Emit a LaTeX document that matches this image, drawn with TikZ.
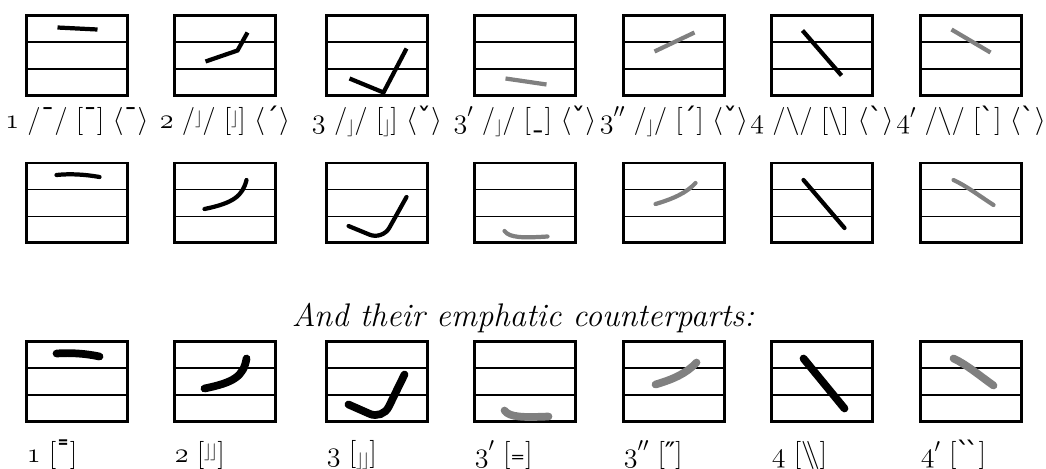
\RequirePackage{fix-cm}
\documentclass[tikz,border=0pt]{standalone}
\usepackage{fontspec}
\newfontfamily\tonefont{DejaVu Sans}
\usepackage{graphicx}
\usetikzlibrary{calc, positioning}
\definecolor{cInk}{RGB}{0, 0, 0}
\definecolor{cFaint}{RGB}{128, 128, 128}

% old-style digits and tone glyphs
\newcommand{\osf}[1]{{\usefont{OML}{cmm}{m}{it}#1}}
\newcommand{\ang}[1]{$\langle${\tonefont #1}$\rangle$}
\newcommand{\tnHigh}{{\tonefont ˉ}}
\newcommand{\tnRise}{\raisebox{0.45ex}{\scalebox{0.6}{$\rfloor$}}}
\newcommand{\tnLow}{\raisebox{-0.35ex}{\scalebox{0.6}{$\rfloor$}}}
\newcommand{\tnFlat}{{\tonefont ˍ}}
\newcommand{\tnTop}{{\tonefont ˊ}}
\newcommand{\tnFall}{$\backslash$}
\newcommand{\tnFallTop}{{\tonefont ˋ}}

\begin{document}
\begin{tikzpicture}[
    x=0.02cm, y=-0.02cm,
    panel/.style={
        draw, line width=1.7pt,
        minimum width=2.02cm, minimum height=1.6cm,
        inner sep=0pt, outer sep=0pt,
        path picture={
            \draw[line width=0.85pt]
                ($(path picture bounding box.north west)!0.333!(path picture bounding box.south west)$) --
                ($(path picture bounding box.north east)!0.333!(path picture bounding box.south east)$);
            \draw[line width=0.85pt]
                ($(path picture bounding box.north west)!0.667!(path picture bounding box.south west)$) --
                ($(path picture bounding box.north east)!0.667!(path picture bounding box.south east)$);
        }
    },
    plain/.style={line width=2.4pt, line cap=butt, line join=miter, color=#1},
    plain/.default=cInk,
    smooth/.style={line width=2.4pt, line cap=round, color=#1},
    smooth/.default=cInk,
    emph/.style={line width=4.4pt, line cap=round, color=#1},
    emph/.default=cInk,
    tonelabel/.style={inner sep=0pt, font=\fontsize{16}{19}\selectfont}
]
\useasboundingbox (0,0) rectangle (1046,469);

\foreach \n/\x in {1/77, 2/225, 3/377, 4/525, 5/674, 6/822, 7/971}{
    \node[panel] (p\n) at (\x,55.5) {};
    \node[panel] (s\n) at (\x,203) {};
    \node[panel] (e\n) at (\x,381.5) {};
}

% Straight contours
\begin{scope}[shift={(p1.north west)}] \draw[plain] (31,12) -- (71,14); \end{scope}
\begin{scope}[shift={(p2.north west)}] \draw[plain] (31,46) -- (63,35) -- (73,17); \end{scope}
\begin{scope}[shift={(p3.north west)}] \draw[plain] (23,63) -- (57,77) -- (80,33); \end{scope}
\begin{scope}[shift={(p4.north west)}] \draw[plain=cFaint] (31,63) -- (72,69); \end{scope}
\begin{scope}[shift={(p5.north west)}] \draw[plain=cFaint] (31,36) -- (71,17); \end{scope}
\begin{scope}[shift={(p6.north west)}] \draw[plain] (31,15) -- (70,60); \end{scope}
\begin{scope}[shift={(p7.north west)}] \draw[plain=cFaint] (31,14) -- (70,37); \end{scope}

\node[tonelabel] (l1) at (p1 |- 0,121) {\osf{1} /\tnHigh/ [\tnHigh] \ang{ˉ}};
\node[tonelabel] (l2) at (p2 |- 0,121) {\osf{2} /\tnRise/ [\tnRise] \ang{ˊ}};
\node[tonelabel] (l3) at (p3 |- 0,121) {\osf{3} /\tnLow/ [\tnLow] \ang{ˇ}};
\node[tonelabel] (l4) at (p4 |- 0,121) {\osf{3}$'$ /\tnLow/ [\tnFlat] \ang{ˇ}};
\node[tonelabel] (l5) at (p5 |- 0,121) {\osf{3}$''$ /\tnLow/ [\tnTop] \ang{ˇ}};
\node[tonelabel] (l6) at (p6 |- 0,121) {\osf{4} /\tnFall/ [\tnFall] \ang{ˋ}};
\node[tonelabel] (l7) at (p7 |- 0,121) {\osf{4}$'$ /\tnFall/ [\tnFallTop] \ang{ˋ}};

% Smooth contours
\begin{scope}[shift={(s1.north west)}] \draw[smooth] (30,12) .. controls (44,10.5) and (59,11.5) .. (73,14); \end{scope}
\begin{scope}[shift={(s2.north west)}] \draw[smooth] (30,46) .. controls (59,40) and (68,33) .. (72,17); \end{scope}
\begin{scope}[shift={(s3.north west)}] \draw[smooth, rounded corners=8pt] (22,63) -- (56,77) -- (80,34); \end{scope}
\begin{scope}[shift={(s4.north west)}] \draw[smooth=cFaint] (30,68) .. controls (35,75) and (49,75) .. (73,73.5); \end{scope}
\begin{scope}[shift={(s5.north west)}] \draw[smooth=cFaint] (32,41) .. controls (49,36) and (63,30) .. (72,20); \end{scope}
\begin{scope}[shift={(s6.north west)}] \draw[smooth] (32,17) -- (73,65); \end{scope}
\begin{scope}[shift={(s7.north west)}] \draw[smooth=cFaint] (33,17) .. controls (46,23) and (59,33) .. (73,42); \end{scope}

\node[font=\fontsize{18.6}{22}\selectfont\itshape] (title) at (523,318) {And their emphatic counterparts:};

% Emphatic contours
\begin{scope}[shift={(e1.north west)}] \draw[emph] (30,12) .. controls (44,11) and (59,12) .. (73,15); \end{scope}
\begin{scope}[shift={(e2.north west)}] \draw[emph] (30,47) .. controls (59,41) and (69,35) .. (72,17); \end{scope}
\begin{scope}[shift={(e3.north west)}] \draw[emph, rounded corners=8pt] (22,63) -- (56,78) -- (78,33); \end{scope}
\begin{scope}[shift={(e4.north west)}] \draw[emph=cFaint] (30,69) .. controls (35,76) and (49,76) .. (74,75); \end{scope}
\begin{scope}[shift={(e5.north west)}] \draw[emph=cFaint] (32,43) .. controls (49,38) and (63,32) .. (73,21); \end{scope}
\begin{scope}[shift={(e6.north west)}] \draw[emph] (32,17) -- (73,67); \end{scope}
\begin{scope}[shift={(e7.north west)}] \draw[emph=cFaint] (33,17) .. controls (46,23) and (59,34) .. (73,44); \end{scope}

\node[tonelabel, anchor=west] (m1) at (e1.west |- 0,455) {\osf{1} [{\tonefont ˭}]};
\node[tonelabel, anchor=west] (m2) at (e2.west |- 0,455) {\osf{2} [\tnRise\kern-0.05em\tnRise]};
\node[tonelabel, anchor=west] (m3) at (e3.west |- 0,455) {\osf{3} [\tnLow\kern-0.05em\tnLow]};
\node[tonelabel, anchor=west] (m4) at (e4.west |- 0,455) {\osf{3}$'$ [{\tonefont ₌}]};
\node[tonelabel, anchor=west] (m5) at (e5.west |- 0,455) {\osf{3}$''$ [{\tonefont ″}]};
\node[tonelabel, anchor=west] (m6) at (e6.west |- 0,455) {\osf{4} [$\backslash\!\!\backslash$]};
\node[tonelabel, anchor=west] (m7) at (e7.west |- 0,455) {\osf{4}$'$ [{\tonefont ˋ\kern-0.2emˋ}]};

\end{tikzpicture}
\end{document}
